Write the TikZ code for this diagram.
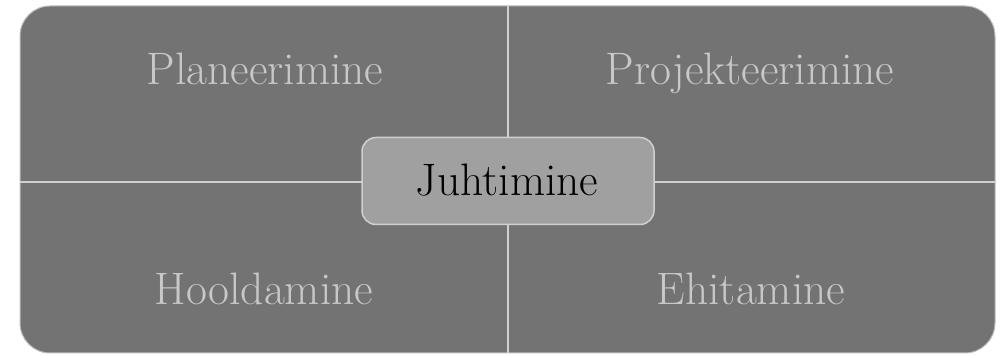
\documentclass[tikz,border=0pt]{standalone}
\definecolor{panel}{HTML}{737373}
\definecolor{divider}{HTML}{D0D0D0}
\definecolor{hubfill}{HTML}{A0A0A0}
\definecolor{qtext}{HTML}{C8C8C8}
\tikzset{
  quadlabel/.style={anchor=base, text=qtext, inner sep=0pt, font=\fontsize{45.5}{54}\selectfont},
  hub/.style={draw=divider, line width=1.5pt, fill=hubfill, rounded corners=14pt,
    minimum width=292pt, minimum height=87pt, inner sep=0pt},
  hubtext/.style={anchor=base, text=black, inner sep=0pt, font=\fontsize{45.5}{54}\selectfont},
  divline/.style={draw=divider, line width=2.5pt}
}
\begin{document}
\begin{tikzpicture}[x=1pt,y=-1pt]
\useasboundingbox (0,0) rectangle (1005,355);
% outer panel
\draw[fill=panel, draw=divider!80!panel, line width=1pt, rounded corners=30pt] (20,6) rectangle (995,353);
% divider end points
\coordinate (top) at (508,6);
\coordinate (bottom) at (508,353);
\coordinate (left) at (20,182);
\coordinate (right) at (995,182);
\draw[divline] (top) -- (bottom);
\draw[divline] (left) -- (right);
% quadrant labels
\node[quadlabel] (plan) at (265,85) {Planeerimine};
\node[quadlabel] (proj) at (750,85) {Projekteerimine};
\node[quadlabel] (hool) at (264,305) {Hooldamine};
\node[quadlabel] (ehit) at (751,305) {Ehitamine};
% centre
\node[hub] (hub) at (508,181) {};
\node[hubtext] (juht) at (507,196) {Juhtimine};
\end{tikzpicture}
\end{document}
